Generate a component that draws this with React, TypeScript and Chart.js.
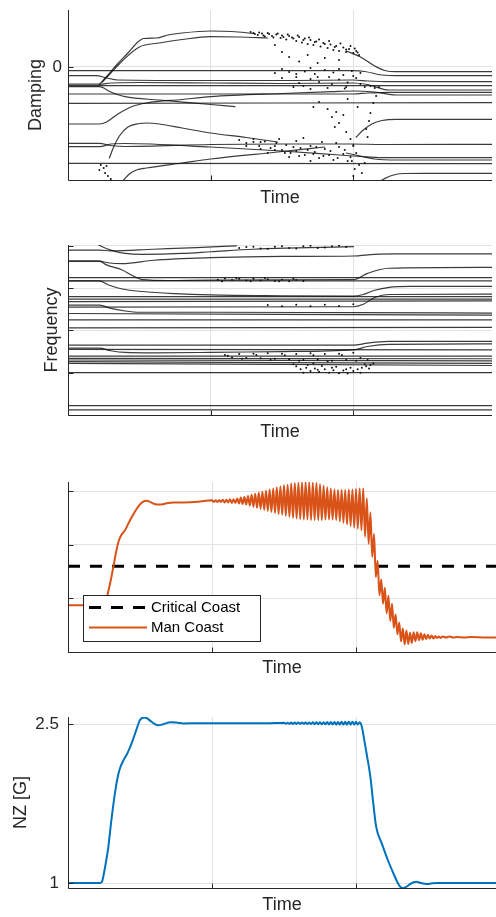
import React, { useEffect, useRef } from "react";
import { Chart, registerables } from "chart.js";

Chart.register(...registerables);

type Pt = [number, number];

const FONT = "'Liberation Sans', Arial, Helvetica, sans-serif";
const INK = "#262626";
const GRID = "#e2e2e2";
const EIG = "rgba(10,10,10,0.8)";
const ORANGE = "#D95319";
const BLUE = "#0072BD";

// ---------- shared time axis ----------
const timeTicks = [0, 1, 2];
const timeMin = 0;
const timeMax = 2.972;
const xTitle = "Time";

// ---------- Damping ----------
const dampingTitle = "Damping";
const dampingTicks = [0];
const dampingMin = -11.3;
const dampingMax = 5.7;
const dampingCurves: Pt[][] = [
  [[0.22, -1.75], [0.28, -0.8], [0.34, 0.2], [0.42, 1.4], [0.49, 2.5], [0.53, 2.85], [0.62, 2.9], [0.7, 3.2], [0.8, 3.4], [1.0, 3.6], [1.15, 3.55], [1.3, 3.35]],
  [[0.24, -1.5], [0.3, -0.6], [0.38, 0.6], [0.5, 2.0], [0.64, 2.4], [0.8, 2.75], [1.0, 3.03], [1.2, 3.0], [1.4, 2.9]],
  [[0, -0.37], [2.0, -0.37], [2.08, -0.45], [2.2, -0.8], [2.3, -0.87], [2.972, -0.87]],
  [[1.95, 1.6], [2.05, 1.0], [2.15, 0.1], [2.22, -0.35], [2.3, -0.47], [2.972, -0.47]],
  [[0, -0.87], [0.2, -0.87], [0.26, -1.05], [0.35, -1.3], [1.0, -1.35], [1.6, -1.35], [2.0, -1.3], [2.1, -1.4], [2.25, -1.47], [2.972, -1.47]],
  [[0, -1.87], [2.972, -1.87]],
  [[0, -1.72], [0.22, -1.72], [0.3, -1.6], [0.5, -1.55], [1.0, -1.6], [1.5, -1.65], [2.0, -1.6], [2.1, -1.75], [2.25, -2.3], [2.972, -2.3]],
  [[0, -1.97], [0.22, -1.97], [0.3, -2.5], [0.4, -2.97], [0.64, -3.3], [1.0, -3.75], [1.17, -3.97]],
  [[0, -2.7], [2.0, -2.7], [2.1, -2.6], [2.25, -2.53], [2.972, -2.53]],
  [[0, -5.7], [0.22, -5.7], [0.27, -5.5], [0.35, -4.7], [0.45, -3.95], [0.55, -3.6], [0.8, -3.25], [1.0, -2.97], [1.5, -2.65], [1.85, -2.47], [2.0, -2.4], [2.15, -2.5], [2.3, -2.8], [2.972, -2.8]],
  [[0, -3.63], [2.972, -3.57]],
  [[2.02, -7.0], [2.07, -6.3], [2.13, -5.7], [2.2, -5.35], [2.3, -5.23], [2.972, -5.23]],
  [[0.29, -9.1], [0.32, -8.0], [0.36, -6.9], [0.42, -6.0], [0.5, -5.65], [0.55, -5.6], [0.64, -5.7], [0.8, -6.1], [1.0, -6.6], [1.25, -7.05], [1.47, -7.5]],
  [[0, -7.63], [0.22, -7.63], [0.3, -7.85], [0.4, -7.95], [1.0, -7.75], [1.5, -7.7], [2.0, -7.7], [2.2, -7.75], [2.972, -7.73]],
  [[0, -7.97], [0.22, -7.97], [0.3, -7.7], [0.4, -7.65], [1.0, -8.0], [1.5, -8.4], [1.9, -8.8], [2.05, -8.95], [2.2, -9.07], [2.972, -9.07]],
  [[0, -9.63], [2.972, -9.67]],
  [[0.39, -11.3], [0.43, -10.7], [0.48, -10.3], [0.55, -10.1], [0.8, -9.6], [1.0, -9.2], [1.47, -8.5], [1.8, -8.0]],
  [[1.95, -8.6], [2.05, -8.9], [2.15, -9.2], [2.3, -9.3], [2.972, -9.3]],
  [[2.2, -11.3], [2.27, -10.85], [2.35, -10.65], [2.5, -10.63], [2.972, -10.63]],
];
const dampingDots: Pt[] = [
  [1.3, 3.4], [1.33, 3.2], [1.36, 3.35], [1.38, 3.05], [1.41, 3.3], [1.44, 2.95], [1.46, 3.25], [1.49, 2.9], [1.5, 3.15], [1.53, 2.75],
  [1.55, 3.1], [1.57, 2.95], [1.6, 2.6], [1.62, 3.0], [1.64, 2.45], [1.66, 2.85], [1.68, 2.3], [1.7, 2.7], [1.72, 2.2], [1.74, 2.55],
  [1.77, 2.05], [1.79, 2.4], [1.82, 1.9], [1.84, 2.25], [1.86, 1.7], [1.88, 2.1], [1.9, 1.6], [1.93, 1.95], [1.95, 1.5], [1.97, 1.8],
  [2.0, 1.4], [2.02, 1.6], [2.04, 1.2], [1.55, 1.0], [1.62, 0.55], [1.68, 1.2], [1.75, 0.4], [1.8, 0.9], [1.5, 1.5], [1.45, 2.2], [1.9, 0.7],
  [1.28, 3.5], [1.31, 3.3], [1.34, 3.45], [1.37, 3.15], [1.4, 3.4], [1.43, 3.1], [1.47, 3.35], [1.51, 3.0], [1.54, 3.25], [1.58, 2.85],
  [1.61, 3.15], [1.65, 2.7], [1.69, 2.95], [1.73, 2.5], [1.76, 2.75], [1.8, 2.3], [1.83, 2.6], [1.87, 2.0], [1.91, 2.35], [1.95, 1.75],
  [1.98, 2.1], [2.01, 1.85], [2.03, 1.45],
  [1.45, -0.6], [1.5, -1.1], [1.55, -0.5], [1.6, -1.0], [1.62, -1.6], [1.66, -0.45], [1.7, -1.2], [1.73, -0.7], [1.76, -1.5], [1.8, -0.3],
  [1.83, -1.0], [1.86, -0.55], [1.9, -1.25], [1.93, -0.8], [1.96, -1.55], [1.99, -0.4], [2.02, -1.1], [2.05, -1.7], [2.08, -2.0], [2.12, -1.9],
  [2.15, -2.1], [2.18, -2.0], [1.58, -2.0], [1.7, -2.2], [1.82, -2.1], [1.94, -2.15],
  [1.5, -0.2], [1.6, -0.7], [1.7, -0.1], [1.75, -1.0], [1.85, -1.7], [1.9, -0.2], [2.0, -0.9], [2.05, -0.6], [1.65, -1.9], [1.95, -2.0],
  [1.82, -4.2], [1.85, -5.0], [1.88, -4.5], [1.9, -5.6], [1.93, -4.8], [1.87, -6.0], [1.95, -6.5], [1.98, -7.2], [2.0, -7.8], [2.02, -8.6],
  [1.99, -9.4], [2.01, -10.2], [2.0, -10.9], [2.04, -9.8], [2.06, -10.6], [2.08, -9.6], [2.1, -7.0], [2.12, -4.6], [2.14, -3.6], [2.16, -2.9],
  [2.11, -5.4], [2.09, -6.2], [1.76, -3.5], [1.72, -4.0], [1.96, -3.2], [2.03, -4.0],
  [1.2, -7.3], [1.25, -7.6], [1.3, -7.2], [1.34, -7.9], [1.38, -7.45], [1.42, -8.1], [1.46, -7.6], [1.5, -8.3], [1.53, -7.8], [1.56, -8.6],
  [1.6, -7.4], [1.63, -8.1], [1.66, -8.8], [1.7, -7.9], [1.73, -8.5], [1.76, -9.1], [1.8, -8.2], [1.83, -8.8], [1.86, -9.3], [1.9, -8.0],
  [1.93, -8.7], [1.96, -9.4], [2.0, -7.9], [1.4, -8.6], [1.55, -9.0], [1.7, -9.4], [1.78, -7.5], [1.88, -7.6], [1.48, -7.2], [1.65, -7.1],
  [1.25, -7.9], [1.3, -7.5], [1.35, -8.2], [1.45, -7.9], [1.52, -8.6], [1.58, -8.0], [1.62, -8.9], [1.68, -8.3], [1.74, -8.0], [1.79, -8.9],
  [1.84, -8.4], [1.89, -9.1], [1.94, -8.3], [1.98, -9.0], [1.35, -7.5], [1.45, -8.3], [1.6, -8.4], [1.72, -8.7],
  [0.22, -10.3], [0.25, -10.1], [0.27, -9.9], [0.26, -10.6], [0.28, -10.9], [0.3, -11.2], [0.23, -9.8],
];

// ---------- Frequency ----------
const frequencyTitle = "Frequency";
const frequencyTicks = [0, 1, 2, 3, 4];
const frequencyMin = 0;
const frequencyMax = 4.02;
const frequencyCurves: Pt[][] = [
  [[0, 3.9], [0.22, 3.9], [0.3, 3.88], [0.6, 3.92], [0.9, 3.96], [1.18, 4.0]],
  [[0.2, 4.05], [0.24, 3.98], [0.3, 3.9], [0.4, 3.82], [0.52, 3.8], [0.8, 3.82], [1.0, 3.86], [1.3, 3.92], [1.6, 3.95], [2.0, 3.98]],
  [[0, 3.64], [0.22, 3.64], [0.28, 3.6], [0.38, 3.58], [0.6, 3.66], [1.0, 3.72], [1.5, 3.75], [2.0, 3.76], [2.15, 3.8], [2.3, 3.81], [2.972, 3.81]],
  [[0, 3.64], [0.22, 3.64], [0.27, 3.55], [0.38, 3.43], [0.45, 3.3], [0.52, 3.2], [0.7, 3.18], [1.0, 3.19], [2.0, 3.2], [2.1, 3.35], [2.25, 3.47], [2.972, 3.49]],
  [[0, 3.25], [2.972, 3.25]],
  [[0, 3.17], [2.972, 3.17]],
  [[0, 3.17], [0.22, 3.17], [0.28, 3.08], [0.38, 2.98], [0.52, 2.92], [0.75, 2.87], [1.0, 2.84], [1.5, 2.82], [2.0, 2.81], [2.07, 2.85], [2.15, 2.95], [2.25, 3.02], [2.4, 3.04], [2.972, 3.04]],
  [[0, 2.8], [2.972, 2.8]],
  [[0, 2.74], [2.972, 2.74]],
  [[0, 2.68], [2.972, 2.7]],
  [[0, 2.6], [0.22, 2.6], [0.3, 2.52], [0.4, 2.46], [0.5, 2.43], [1.0, 2.43], [2.0, 2.42], [2.972, 2.41]],
  [[0, 2.55], [2.0, 2.56], [2.07, 2.62], [2.15, 2.78], [2.25, 2.85], [2.972, 2.86]],
  [[0, 2.4], [2.972, 2.36]],
  [[0, 2.25], [2.972, 2.25]],
  [[0, 2.06], [2.972, 2.07]],
  [[0, 1.65], [2.0, 1.65], [2.1, 1.7], [2.25, 1.74], [2.972, 1.74]],
  [[0, 1.58], [0.22, 1.58], [0.3, 1.52], [0.4, 1.48], [0.6, 1.47], [1.0, 1.48], [1.5, 1.5], [2.0, 1.54], [2.1, 1.62], [2.25, 1.67], [2.972, 1.68]],
  [[0, 1.55], [2.972, 1.54]],
  [[0, 1.39], [2.972, 1.39]],
  [[0, 1.34], [2.972, 1.33]],
  [[0, 1.3], [2.972, 1.28]],
  [[0, 1.26], [2.972, 1.22]],
  [[0, 1.22], [2.972, 1.17]],
  [[0, 1.0], [2.972, 1.0]],
  [[0, 0.22], [2.972, 0.22]],
  [[0, 0.12], [2.972, 0.12]],
];
const frequencyDots: Pt[] = [
  [1.1, 1.42], [1.15, 1.36], [1.2, 1.44], [1.25, 1.35], [1.3, 1.45], [1.35, 1.34], [1.4, 1.46], [1.45, 1.33], [1.5, 1.45], [1.55, 1.32],
  [1.6, 1.44], [1.65, 1.3], [1.7, 1.46], [1.75, 1.31], [1.8, 1.44], [1.85, 1.28], [1.9, 1.45], [1.95, 1.3], [2.0, 1.47], [2.05, 1.35],
  [1.12, 1.4], [1.22, 1.33], [1.32, 1.42], [1.42, 1.3], [1.52, 1.41], [1.62, 1.28], [1.72, 1.41], [1.82, 1.27], [1.92, 1.42], [2.02, 1.28], [2.1, 1.3],
  [1.6, 1.15], [1.63, 1.08], [1.67, 1.12], [1.7, 1.04], [1.73, 1.1], [1.76, 1.02], [1.8, 1.08], [1.83, 1.0], [1.86, 1.06], [1.9, 0.99],
  [1.93, 1.05], [1.96, 0.98], [2.0, 1.04], [2.03, 1.08], [2.06, 1.12], [2.09, 1.15], [2.12, 1.18], [1.68, 1.18], [1.78, 1.16], [1.88, 1.14],
  [1.98, 1.12], [2.08, 1.2], [2.14, 1.22], [1.58, 1.2], [1.72, 1.22], [1.65, 1.0], [1.75, 1.07], [1.85, 1.12], [1.95, 1.08], [2.05, 1.0], [2.11, 1.1],
  [1.05, 3.2], [1.1, 3.23], [1.15, 3.19], [1.2, 3.22], [1.25, 3.18], [1.3, 3.22], [1.35, 3.18], [1.4, 3.21], [1.45, 3.17], [1.5, 3.2], [1.55, 3.16], [1.6, 3.19],
  [1.08, 3.16], [1.18, 3.24], [1.28, 3.16], [1.38, 3.24], [1.48, 3.16], [1.58, 3.22], [1.65, 3.17],
  [1.2, 3.95], [1.3, 3.98], [1.4, 3.93], [1.5, 3.99], [1.6, 3.94], [1.7, 4.0], [1.8, 3.96], [1.9, 4.0],
  [1.25, 3.97], [1.35, 3.94], [1.45, 3.98], [1.55, 3.95], [1.65, 3.99], [1.75, 3.95], [1.85, 3.99], [1.95, 3.97],
  [1.4, 2.6], [1.5, 2.57], [1.6, 2.61], [1.7, 2.57], [1.8, 2.61], [1.9, 2.58], [2.0, 2.62],
];

// ---------- Coast ----------
const coastTicks = [0, 1, 2, 3];
const coastMin = 0;
const coastMax = 3.17;
const criticalCoastLabel = "Critical Coast";
const manCoastLabel = "Man Coast";
const criticalCoast = 1.6;
const manCoast: Pt[] = [
  [0, 0.87], [0.22, 0.87], [0.245, 0.9], [0.27, 1.03], [0.29, 1.25], [0.315, 1.59], [0.335, 1.88], [0.35, 2.05], [0.37, 2.18], [0.396, 2.27],
  [0.42, 2.4], [0.45, 2.55], [0.49, 2.72], [0.52, 2.8], [0.545, 2.82], [0.57, 2.8], [0.6, 2.76], [0.64, 2.75], [0.68, 2.77], [0.73, 2.79],
  [0.8, 2.79], [0.9, 2.8],
  [1.0, 2.83], [1.0125, 2.8], [1.025, 2.83], [1.0375, 2.8], [1.05, 2.83], [1.0625, 2.8], [1.075, 2.84], [1.0875, 2.79], [1.1, 2.84], [1.1125, 2.79],
  [1.125, 2.85], [1.1375, 2.78], [1.15, 2.85], [1.1625, 2.78], [1.175, 2.86], [1.1875, 2.77], [1.2, 2.88], [1.2125, 2.76], [1.225, 2.89], [1.2375, 2.75],
  [1.25, 2.91], [1.2625, 2.73], [1.275, 2.93], [1.2875, 2.71], [1.3, 2.95], [1.3125, 2.69], [1.325, 2.97], [1.3375, 2.67], [1.35, 2.99], [1.3625, 2.65],
  [1.375, 3.01], [1.3875, 2.63], [1.4, 3.03], [1.4125, 2.61], [1.425, 3.05], [1.4375, 2.59], [1.45, 3.07], [1.4625, 2.57], [1.475, 3.09], [1.4875, 2.56],
  [1.5, 3.11], [1.5125, 2.54], [1.525, 3.12], [1.5375, 2.52], [1.55, 3.14], [1.5625, 2.5], [1.575, 3.15], [1.5875, 2.49], [1.6, 3.16], [1.6125, 2.48],
  [1.625, 3.17], [1.6375, 2.47], [1.65, 3.17], [1.6625, 2.47], [1.675, 3.17], [1.6875, 2.46], [1.7, 3.16], [1.7125, 2.46], [1.725, 3.15], [1.7375, 2.46],
  [1.75, 3.13], [1.7625, 2.46], [1.775, 3.1], [1.7875, 2.47], [1.8, 3.07], [1.8125, 2.47], [1.825, 3.05], [1.8375, 2.47], [1.85, 3.03], [1.8625, 2.46],
  [1.875, 3.02], [1.8875, 2.44], [1.9, 3.02], [1.9125, 2.41], [1.925, 3.02], [1.9375, 2.38], [1.95, 3.03], [1.9625, 2.35], [1.975, 3.03], [1.9875, 2.32],
  [2.0, 3.04], [2.0125, 2.3], [2.025, 3.05], [2.0375, 2.27], [2.05, 3.05],
  [2.0625, 2.15], [2.075, 2.86], [2.0875, 2.02], [2.1, 2.6], [2.1125, 1.77], [2.125, 2.2], [2.1375, 1.4], [2.15, 1.7], [2.1625, 1.06], [2.175, 1.35],
  [2.1875, 0.9], [2.2, 1.2], [2.2125, 0.72], [2.225, 1.05], [2.2375, 0.58], [2.25, 0.9], [2.2625, 0.45], [2.275, 0.7], [2.2875, 0.33], [2.3, 0.55],
  [2.3125, 0.2], [2.325, 0.44], [2.3375, 0.14], [2.35, 0.4], [2.3625, 0.15], [2.375, 0.36], [2.3875, 0.17], [2.4, 0.37], [2.4125, 0.2], [2.425, 0.37],
  [2.4375, 0.22], [2.45, 0.35], [2.4625, 0.23], [2.475, 0.33], [2.4875, 0.24], [2.5, 0.32], [2.5125, 0.25], [2.525, 0.31], [2.5375, 0.25], [2.55, 0.3],
  [2.5625, 0.26], [2.575, 0.29], [2.5875, 0.26], [2.6, 0.29], [2.625, 0.27], [2.65, 0.29], [2.675, 0.27], [2.7, 0.28], [2.75, 0.27], [2.8, 0.28],
  [2.9, 0.27], [2.972, 0.27],
];

// ---------- NZ ----------
const nzTitle = "NZ [G]";
const nzTicks = [1, 2.5];
const nzMin = 0.953;
const nzMax = 2.569;
const nz: Pt[] = [
  [0, 1.0], [0.22, 1.0], [0.235, 1.01], [0.245, 1.06], [0.26, 1.17], [0.28, 1.34], [0.3, 1.58], [0.326, 1.85], [0.345, 2.0], [0.36, 2.08],
  [0.385, 2.16], [0.41, 2.22], [0.43, 2.28], [0.45, 2.35], [0.475, 2.45], [0.5, 2.54], [0.528, 2.565], [0.55, 2.555], [0.57, 2.535], [0.6, 2.505],
  [0.625, 2.49], [0.66, 2.5], [0.71, 2.52], [0.76, 2.515], [0.8, 2.508], [0.9, 2.51], [1.0, 2.51], [1.2, 2.51], [1.4, 2.51], [1.45, 2.512],
  [1.5, 2.515], [1.5125, 2.505], [1.525, 2.515], [1.5375, 2.505], [1.55, 2.516], [1.5625, 2.504], [1.575, 2.516], [1.5875, 2.504], [1.6, 2.517], [1.6125, 2.503],
  [1.625, 2.517], [1.6375, 2.503], [1.65, 2.518], [1.6625, 2.502], [1.675, 2.518], [1.6875, 2.502], [1.7, 2.519], [1.7125, 2.501], [1.725, 2.519], [1.7375, 2.501],
  [1.75, 2.52], [1.7625, 2.5], [1.775, 2.52], [1.7875, 2.5], [1.8, 2.521], [1.8125, 2.499], [1.825, 2.521], [1.8375, 2.499], [1.85, 2.522], [1.8625, 2.498],
  [1.875, 2.522], [1.8875, 2.498], [1.9, 2.523], [1.9125, 2.497], [1.925, 2.523], [1.9375, 2.497], [1.95, 2.524], [1.9625, 2.496], [1.975, 2.524], [1.9875, 2.496],
  [2.0, 2.525], [2.0125, 2.497], [2.025, 2.52], [2.04, 2.48], [2.05, 2.41], [2.07, 2.25], [2.1, 2.0], [2.12, 1.75], [2.14, 1.53], [2.18, 1.37],
  [2.22, 1.22], [2.26, 1.09], [2.29, 1.0], [2.31, 0.96], [2.33, 0.95], [2.35, 0.965], [2.375, 0.99], [2.4, 1.008], [2.42, 1.012], [2.45, 1.0],
  [2.49, 0.99], [2.53, 0.997], [2.57, 1.0], [2.972, 1.0],
];

// ---------- helpers ----------
const toXY = (pts: Pt[]) => pts.map(([x, y]) => ({ x, y }));

const curveSet = (pts: Pt[]) => ({
  data: toXY(pts),
  showLine: true,
  borderColor: EIG,
  borderWidth: 1.2,
  pointRadius: 0,
  cubicInterpolationMode: "monotone",
  fill: false,
});

const dotSet = (pts: Pt[]) => ({
  data: toXY(pts),
  showLine: false,
  pointRadius: 1,
  pointBorderWidth: 0,
  pointBackgroundColor: "#111",
});

const matlabAxes = {
  id: "matlabAxes",
  afterDatasetsDraw(chart: any) {
    const { ctx, chartArea: a, scales } = chart;
    ctx.save();
    ctx.strokeStyle = INK;
    ctx.lineWidth = 1;
    const lx = Math.round(a.left) + 0.5;
    const by = Math.round(a.bottom) + 0.5;
    ctx.beginPath();
    ctx.moveTo(lx, Math.round(a.top));
    ctx.lineTo(lx, by);
    ctx.lineTo(a.right, by);
    ctx.stroke();
    ctx.beginPath();
    for (const t of scales.y.ticks) {
      const py = Math.round(scales.y.getPixelForValue(t.value)) + 0.5;
      ctx.moveTo(lx, py);
      ctx.lineTo(lx + 5, py);
    }
    for (const t of scales.x.ticks) {
      if (t.value === timeMin) continue;
      const px = Math.round(scales.x.getPixelForValue(t.value)) + 0.5;
      ctx.moveTo(px, by);
      ctx.lineTo(px, by - 5);
    }
    ctx.stroke();
    ctx.restore();
  },
};

const coastLegend = {
  id: "coastLegend",
  afterDraw(chart: any) {
    const { ctx, chartArea: a } = chart;
    const x0 = Math.round(a.left) + 15;
    const y0 = Math.round(a.bottom) - 57;
    const w = 177;
    const h = 46;
    ctx.save();
    ctx.fillStyle = "#ffffff";
    ctx.fillRect(x0, y0, w, h);
    ctx.strokeStyle = INK;
    ctx.lineWidth = 1;
    ctx.strokeRect(x0 + 0.5, y0 + 0.5, w, h);
    const r1 = y0 + 12.5;
    const r2 = y0 + 32.5;
    ctx.strokeStyle = "#000";
    ctx.lineWidth = 3;
    ctx.setLineDash([12, 10]);
    ctx.beginPath();
    ctx.moveTo(x0 + 6, r1);
    ctx.lineTo(x0 + 62, r1);
    ctx.stroke();
    ctx.setLineDash([]);
    ctx.strokeStyle = ORANGE;
    ctx.lineWidth = 2;
    ctx.beginPath();
    ctx.moveTo(x0 + 6, r2);
    ctx.lineTo(x0 + 64, r2);
    ctx.stroke();
    ctx.fillStyle = "#000";
    ctx.font = `15px ${FONT}`;
    ctx.textBaseline = "middle";
    ctx.textAlign = "left";
    ctx.fillText(criticalCoastLabel, x0 + 68, r1 + 0.5);
    ctx.fillText(manCoastLabel, x0 + 68, r2 + 0.5);
    ctx.restore();
  },
};

type PanelSpec = {
  datasets: any[];
  yMin: number;
  yMax: number;
  yTicks: number[];
  showYLabels: boolean;
  yTitle?: string;
  yTitlePad: number;
  yTickPad: number;
  padTop: number;
  xAxisHeight: number;
  xTitlePad: number;
  extra?: any[];
};

function buildConfig(s: PanelSpec): any {
  return {
    type: "scatter",
    data: { datasets: s.datasets },
    options: {
      responsive: false,
      maintainAspectRatio: false,
      animation: false,
      devicePixelRatio: 1,
      events: [],
      layout: { padding: { top: s.padTop, left: 0, right: 0, bottom: 0 } },
      plugins: { legend: { display: false }, tooltip: { enabled: false } },
      elements: { line: { borderJoinStyle: "round", borderCapStyle: "round" } },
      scales: {
        x: {
          type: "linear",
          min: timeMin,
          max: timeMax,
          afterBuildTicks: (sc: any) => {
            sc.ticks = timeTicks.map((v) => ({ value: v }));
          },
          afterFit: (sc: any) => {
            sc.height = s.xAxisHeight;
            sc.paddingLeft = 0;
            sc.paddingRight = 0;
            sc.paddingTop = 0;
            sc.paddingBottom = 0;
          },
          grid: { color: GRID, lineWidth: 1, drawTicks: false },
          border: { display: false },
          ticks: { display: false },
          title: {
            display: true,
            text: xTitle,
            color: INK,
            font: { family: FONT, size: 18 },
            padding: { top: 0, bottom: s.xTitlePad },
          },
        },
        y: {
          type: "linear",
          min: s.yMin,
          max: s.yMax,
          afterBuildTicks: (sc: any) => {
            sc.ticks = s.yTicks.map((v) => ({ value: v }));
          },
          afterFit: (sc: any) => {
            sc.width = 68;
            sc.paddingLeft = 0;
            sc.paddingRight = 0;
            sc.paddingTop = 0;
            sc.paddingBottom = 0;
          },
          grid: { color: GRID, lineWidth: 1, drawTicks: false },
          border: { display: false },
          ticks: {
            display: s.showYLabels,
            color: INK,
            padding: s.yTickPad,
            font: { family: FONT, size: 17 },
            callback: (v: number) => String(v),
          },
          title: {
            display: !!s.yTitle,
            text: s.yTitle || "",
            color: INK,
            font: { family: FONT, size: 18 },
            padding: { top: s.yTitlePad, bottom: 0 },
          },
        },
      },
    },
    plugins: [matlabAxes, ...(s.extra || [])],
  };
}

function Panel({ top, height, spec }: { top: number; height: number; spec: () => PanelSpec }) {
  const ref = useRef<HTMLCanvasElement>(null);
  useEffect(() => {
    const chart = new Chart(ref.current as HTMLCanvasElement, buildConfig(spec()));
    return () => chart.destroy();
  }, []);
  return (
    <canvas
      ref={ref}
      width={496}
      height={height}
      style={{ position: "absolute", left: 0, top, width: 496, height, display: "block" }}
    />
  );
}

const dampingSpec = (): PanelSpec => ({
  datasets: [dotSet(dampingDots), ...dampingCurves.map(curveSet)],
  yMin: dampingMin,
  yMax: dampingMax,
  yTicks: dampingTicks,
  showYLabels: true,
  yTitle: dampingTitle,
  yTitlePad: 25,
  yTickPad: 6,
  padTop: 10,
  xAxisHeight: 35,
  xTitlePad: 6.5,
});

const frequencySpec = (): PanelSpec => ({
  datasets: [dotSet(frequencyDots), ...frequencyCurves.map(curveSet)],
  yMin: frequencyMin,
  yMax: frequencyMax,
  yTicks: frequencyTicks,
  showYLabels: false,
  yTitle: frequencyTitle,
  yTitlePad: 41,
  yTickPad: 6,
  padTop: 20,
  xAxisHeight: 35,
  xTitlePad: 7.5,
});

const coastSpec = (): PanelSpec => ({
  datasets: [
    {
      data: toXY(manCoast),
      showLine: true,
      borderColor: ORANGE,
      borderWidth: 2,
      pointRadius: 0,
      cubicInterpolationMode: "monotone",
    },
    {
      data: toXY([
        [timeMin, criticalCoast],
        [timeMax, criticalCoast],
      ]),
      showLine: true,
      borderColor: "#000",
      borderWidth: 3,
      borderDash: [12, 10],
      borderCapStyle: "butt",
      pointRadius: 0,
    },
  ],
  yMin: coastMin,
  yMax: coastMax,
  yTicks: coastTicks,
  showYLabels: false,
  yTitlePad: 0,
  yTickPad: 6,
  padTop: 22,
  xAxisHeight: 28,
  xTitlePad: 1.5,
  extra: [coastLegend],
});

const nzSpec = (): PanelSpec => ({
  datasets: [
    {
      data: toXY(nz),
      showLine: true,
      borderColor: BLUE,
      borderWidth: 2,
      pointRadius: 0,
      cubicInterpolationMode: "monotone",
    },
  ],
  yMin: nzMin,
  yMax: nzMax,
  yTicks: nzTicks,
  showYLabels: true,
  yTitle: nzTitle,
  yTitlePad: 10,
  yTickPad: 9,
  padTop: 27,
  xAxisHeight: 29,
  xTitlePad: 1.2,
});

export default function App() {
  return (
    <div style={{ position: "absolute", left: 0, top: 0, width: 496, height: 917, background: "#fff", overflow: "hidden" }}>
      <Panel top={0} height={215} spec={dampingSpec} />
      <Panel top={225} height={225} spec={frequencySpec} />
      <Panel top={460} height={220} spec={coastSpec} />
      <Panel top={690} height={227} spec={nzSpec} />
    </div>
  );
}
